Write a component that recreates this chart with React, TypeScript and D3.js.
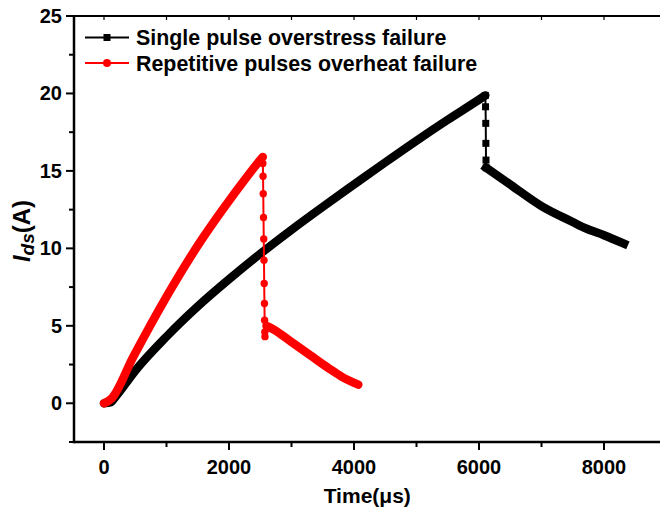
import React from "react";
import * as d3 from "d3";

// ---- data ----
const singleRiseTime = [0, 100, 200, 500, 1000, 1500, 2000, 2500, 3000, 3500, 4000, 4500, 5000, 5500, 6000, 6100];
const singleRiseIds = [0, 0.05, 0.5, 2.1, 4.3, 6.25, 8.0, 9.65, 11.2, 12.68, 14.12, 15.55, 16.95, 18.3, 19.6, 19.87];
const singleDropTime = [6100, 6105, 6108, 6110, 6112, 6115];
const singleDropIds = [19.87, 19.14, 18.07, 16.78, 15.7, 15.2];
const singleDecayTime = [6115, 6500, 7000, 7500, 7700, 8000, 8320];
const singleDecayIds = [15.2, 14.12, 12.73, 11.7, 11.3, 10.85, 10.3];

const repRiseTime = [0, 120, 469, 1003, 1536, 2069, 2523, 2540];
const repRiseIds = [0, 0.3, 3.0, 6.9, 10.4, 13.45, 15.82, 15.9];
const repDropTime = [2540, 2542, 2545, 2548, 2552, 2556, 2560, 2563, 2567, 2570, 2573, 2576];
const repDropIds = [15.9, 15.48, 14.66, 13.53, 11.99, 10.6, 9.24, 7.73, 6.44, 5.36, 4.6, 4.3];
const repDecayTime = [2600, 2700, 3000, 3300, 3600, 3800, 4069];
const repDecayIds = [5.0, 4.8, 3.95, 3.1, 2.25, 1.72, 1.2];

const xMajorTicks = [0, 2000, 4000, 6000, 8000];
const xMinorTicks = [1000, 3000, 5000, 7000, 9000];
const yMajorTicks = [0, 5, 10, 15, 20, 25];
const yMinorTicks = [-2.5, 2.5, 7.5, 12.5, 17.5, 22.5];

const legendLabels = ["Single pulse overstress failure", "Repetitive pulses overheat failure"];
const xTitle = "Time(μs)";

const FONT = "Arial, 'Liberation Sans', Helvetica, sans-serif";

export default function App() {
  const W = 660, H = 510;
  const x = d3.scaleLinear().domain([-480, 9000]).range([74, 666.5]);
  const y = d3.scaleLinear().domain([-2.5, 25]).range([442, 16]);
  const zip = (t: number[], v: number[]) => t.map((d, i) => [d, v[i]] as [number, number]);
  const line = d3.line<[number, number]>().x(d => x(d[0])).y(d => y(d[1]));
  const smooth = d3.line<[number, number]>().x(d => x(d[0])).y(d => y(d[1])).curve(d3.curveMonotoneX);

  const sRise = zip(singleRiseTime, singleRiseIds);
  const sDrop = zip(singleDropTime, singleDropIds);
  const sDecay = zip(singleDecayTime, singleDecayIds);
  const rRise = zip(repRiseTime, repRiseIds);
  const rDrop = zip(repDropTime, repDropIds);
  const rDecay = zip(repDecayTime, repDecayIds);

  const left = x.range()[0];
  const right = x.range()[1];
  const top = y.range()[1];
  const bottom = y.range()[0];
  const sq = 7;

  return (
    <svg width={W} height={H} style={{ position: "absolute", left: 0, top: 0, background: "#fff" }}>
      <rect x={0} y={0} width={W} height={H} fill="#fff" />
      {/* black series */}
      <path d={smooth(sRise) || ""} fill="none" stroke="#000" strokeWidth={8.5} strokeLinecap="round" strokeLinejoin="round" />
      <path d={line(sDrop) || ""} fill="none" stroke="#000" strokeWidth={2} />
      {sDrop.map((d, i) => (
        <rect key={"sq" + i} x={x(d[0]) - sq / 2} y={y(d[1]) - sq / 2} width={sq} height={sq} fill="#000" />
      ))}
      <path d={smooth(sDecay) || ""} fill="none" stroke="#000" strokeWidth={8.5} strokeLinecap="square" strokeLinejoin="round" />
      {/* red series */}
      <path d={smooth(rRise) || ""} fill="none" stroke="#ff0000" strokeWidth={8.5} strokeLinecap="round" strokeLinejoin="round" />
      <path d={line(rDrop) || ""} fill="none" stroke="#ff0000" strokeWidth={2} />
      {rDrop.map((d, i) => (
        <circle key={"c" + i} cx={x(d[0])} cy={y(d[1])} r={3.7} fill="#ff0000" />
      ))}
      <path d={line([rDrop[rDrop.length - 1], rDecay[0]]) || ""} fill="none" stroke="#ff0000" strokeWidth={5} strokeLinecap="round" />
      <path d={smooth(rDecay) || ""} fill="none" stroke="#ff0000" strokeWidth={8.5} strokeLinecap="round" strokeLinejoin="round" />

      {/* frame */}
      <line x1={left} x2={right} y1={top} y2={top} stroke="#000" strokeWidth={2} />
      <line x1={left} x2={right} y1={bottom} y2={bottom} stroke="#000" strokeWidth={2.5} />
      <line x1={left} x2={left} y1={top - 1} y2={bottom + 1.2} stroke="#000" strokeWidth={2.5} />

      {/* x ticks */}
      {xMajorTicks.map(t => (
        <g key={"xM" + t}>
          <line x1={x(t)} x2={x(t)} y1={bottom} y2={bottom + 8} stroke="#000" strokeWidth={2} />
          <line x1={x(t)} x2={x(t)} y1={top} y2={top + 4} stroke="#000" strokeWidth={1.2} />
          <text x={x(t)} y={bottom + 32} textAnchor="middle" fontFamily={FONT} fontWeight="bold" fontSize={20}>{t}</text>
        </g>
      ))}
      {xMinorTicks.map(t => (
        <g key={"xm" + t}>
          <line x1={x(t)} x2={x(t)} y1={bottom} y2={bottom + 5} stroke="#000" strokeWidth={2} />
          <line x1={x(t)} x2={x(t)} y1={top} y2={top + 4} stroke="#000" strokeWidth={1.2} />
        </g>
      ))}
      {/* y ticks */}
      {yMajorTicks.map(t => (
        <g key={"yM" + t}>
          <line x1={left - 8} x2={left} y1={y(t)} y2={y(t)} stroke="#000" strokeWidth={2} />
          <text x={left - 12} y={y(t) + 7} textAnchor="end" fontFamily={FONT} fontWeight="bold" fontSize={20}>{t}</text>
        </g>
      ))}
      {yMinorTicks.map(t => (
        <line key={"ym" + t} x1={left - 5} x2={left} y1={y(t)} y2={y(t)} stroke="#000" strokeWidth={2} />
      ))}

      {/* axis titles */}
      <text x={(left + right) / 2 - 3} y={503} textAnchor="middle" fontFamily={FONT} fontWeight="bold" fontSize={21}>{xTitle}</text>
      <text transform="translate(30,231) rotate(-90)" textAnchor="middle" fontFamily={FONT} fontWeight="bold" fontSize={24}>
        <tspan fontStyle="italic">I</tspan>
        <tspan fontStyle="italic" fontSize={19} dy={4}>ds</tspan>
        <tspan dy={-4}>(A)</tspan>
      </text>

      {/* legend */}
      <g>
        <line x1={85} x2={129} y1={37.5} y2={37.5} stroke="#000" strokeWidth={2} />
        <rect x={107 - sq / 2} y={37.5 - sq / 2} width={sq} height={sq} fill="#000" />
        <text x={136} y={45} fontFamily={FONT} fontWeight="bold" fontSize={21.4}>{legendLabels[0]}</text>
        <line x1={85} x2={129} y1={63} y2={63} stroke="#ff0000" strokeWidth={2} />
        <circle cx={107} cy={63} r={4} fill="#ff0000" />
        <text x={136} y={70.5} fontFamily={FONT} fontWeight="bold" fontSize={21.4}>{legendLabels[1]}</text>
      </g>
    </svg>
  );
}
